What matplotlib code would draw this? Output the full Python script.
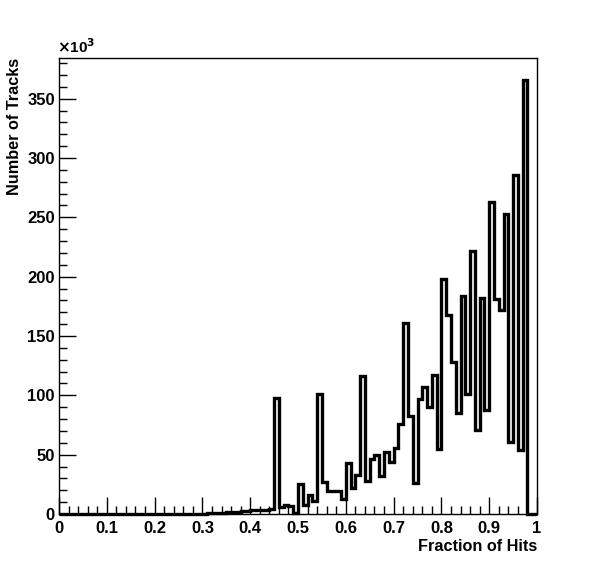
import numpy as np
import matplotlib
matplotlib.use("Agg")
import matplotlib.pyplot as plt
from matplotlib.ticker import MultipleLocator, FuncFormatter

plt.rcParams['font.family'] = ['Liberation Sans', 'DejaVu Sans']
plt.rcParams['font.weight'] = 'bold'

# histogram: 100 bins between 0 and 1, counts in units of 10^3
bin_edges = np.linspace(0, 1, 101)
counts_low = [0.0] * 30
counts_mid = [0.3, 0.6, 0.8, 1.0, 1.2, 1.5, 1.6, 2.0, 2.2, 2.4,
              3.5, 3.2, 3.6, 3.4, 4.5, 97.5, 6.0, 8.0, 7.0, 0.5,
              25.0, 8.0, 16.0, 11.0, 101.5, 27.0, 19.0, 19.0, 19.0, 13.0]
counts_high = [42.6, 22.0, 33.0, 116.0, 28.0, 46.0, 50.0, 32.0, 52.0, 44.0,
               56.0, 76.0, 161.0, 83.0, 26.0, 97.0, 107.0, 90.0, 117.0, 55.0,
               198.0, 168.0, 128.0, 85.0, 184.0, 101.0, 222.0, 71.0, 182.0, 88.0,
               263.0, 181.0, 172.0, 253.0, 61.0, 286.0, 54.0, 366.0, 0.0, 0.0]
counts = np.array(counts_low + counts_mid + counts_high)

fig = plt.figure(figsize=(5.96, 5.72), dpi=100)
ax = fig.add_axes([59 / 596, 1 - 514 / 572, 478 / 596, 456 / 572])

ax.stairs(counts, bin_edges, baseline=None, color='black', linewidth=2.4,
          clip_on=False, zorder=3)

ax.set_xlim(0, 1)
ax.set_ylim(0, 1.05 * counts.max())

ax.xaxis.set_major_locator(MultipleLocator(0.1))
ax.xaxis.set_minor_locator(MultipleLocator(0.02))
ax.yaxis.set_major_locator(MultipleLocator(50))
ax.yaxis.set_minor_locator(MultipleLocator(10))
ax.xaxis.set_major_formatter(FuncFormatter(lambda v, p: f"{v:g}"))

ax.tick_params(which='both', direction='in', labelsize=12, width=1)
ax.tick_params(which='major', length=12)
ax.tick_params(which='minor', length=6)
ax.tick_params(axis='x', pad=5)
ax.tick_params(axis='y', pad=3)
for lbl in ax.get_xticklabels() + ax.get_yticklabels():
    lbl.set_fontweight('bold')

for s in ax.spines.values():
    s.set_linewidth(1)

ax.set_xlabel("Fraction of Hits", fontsize=11.7, fontweight='bold', loc='right')
ax.set_ylabel("Number of Tracks", fontsize=11.7, fontweight='bold', loc='top')
ax.xaxis.set_label_coords(1.0, -0.055)
ax.yaxis.set_label_coords(-0.077, 1.0)

ax.text(-0.005, 1.005, r"$\times$10$^{3}$", transform=ax.transAxes,
        fontsize=11, fontweight='bold', ha='left', va='bottom')

fig.savefig("out.png", dpi=100)
